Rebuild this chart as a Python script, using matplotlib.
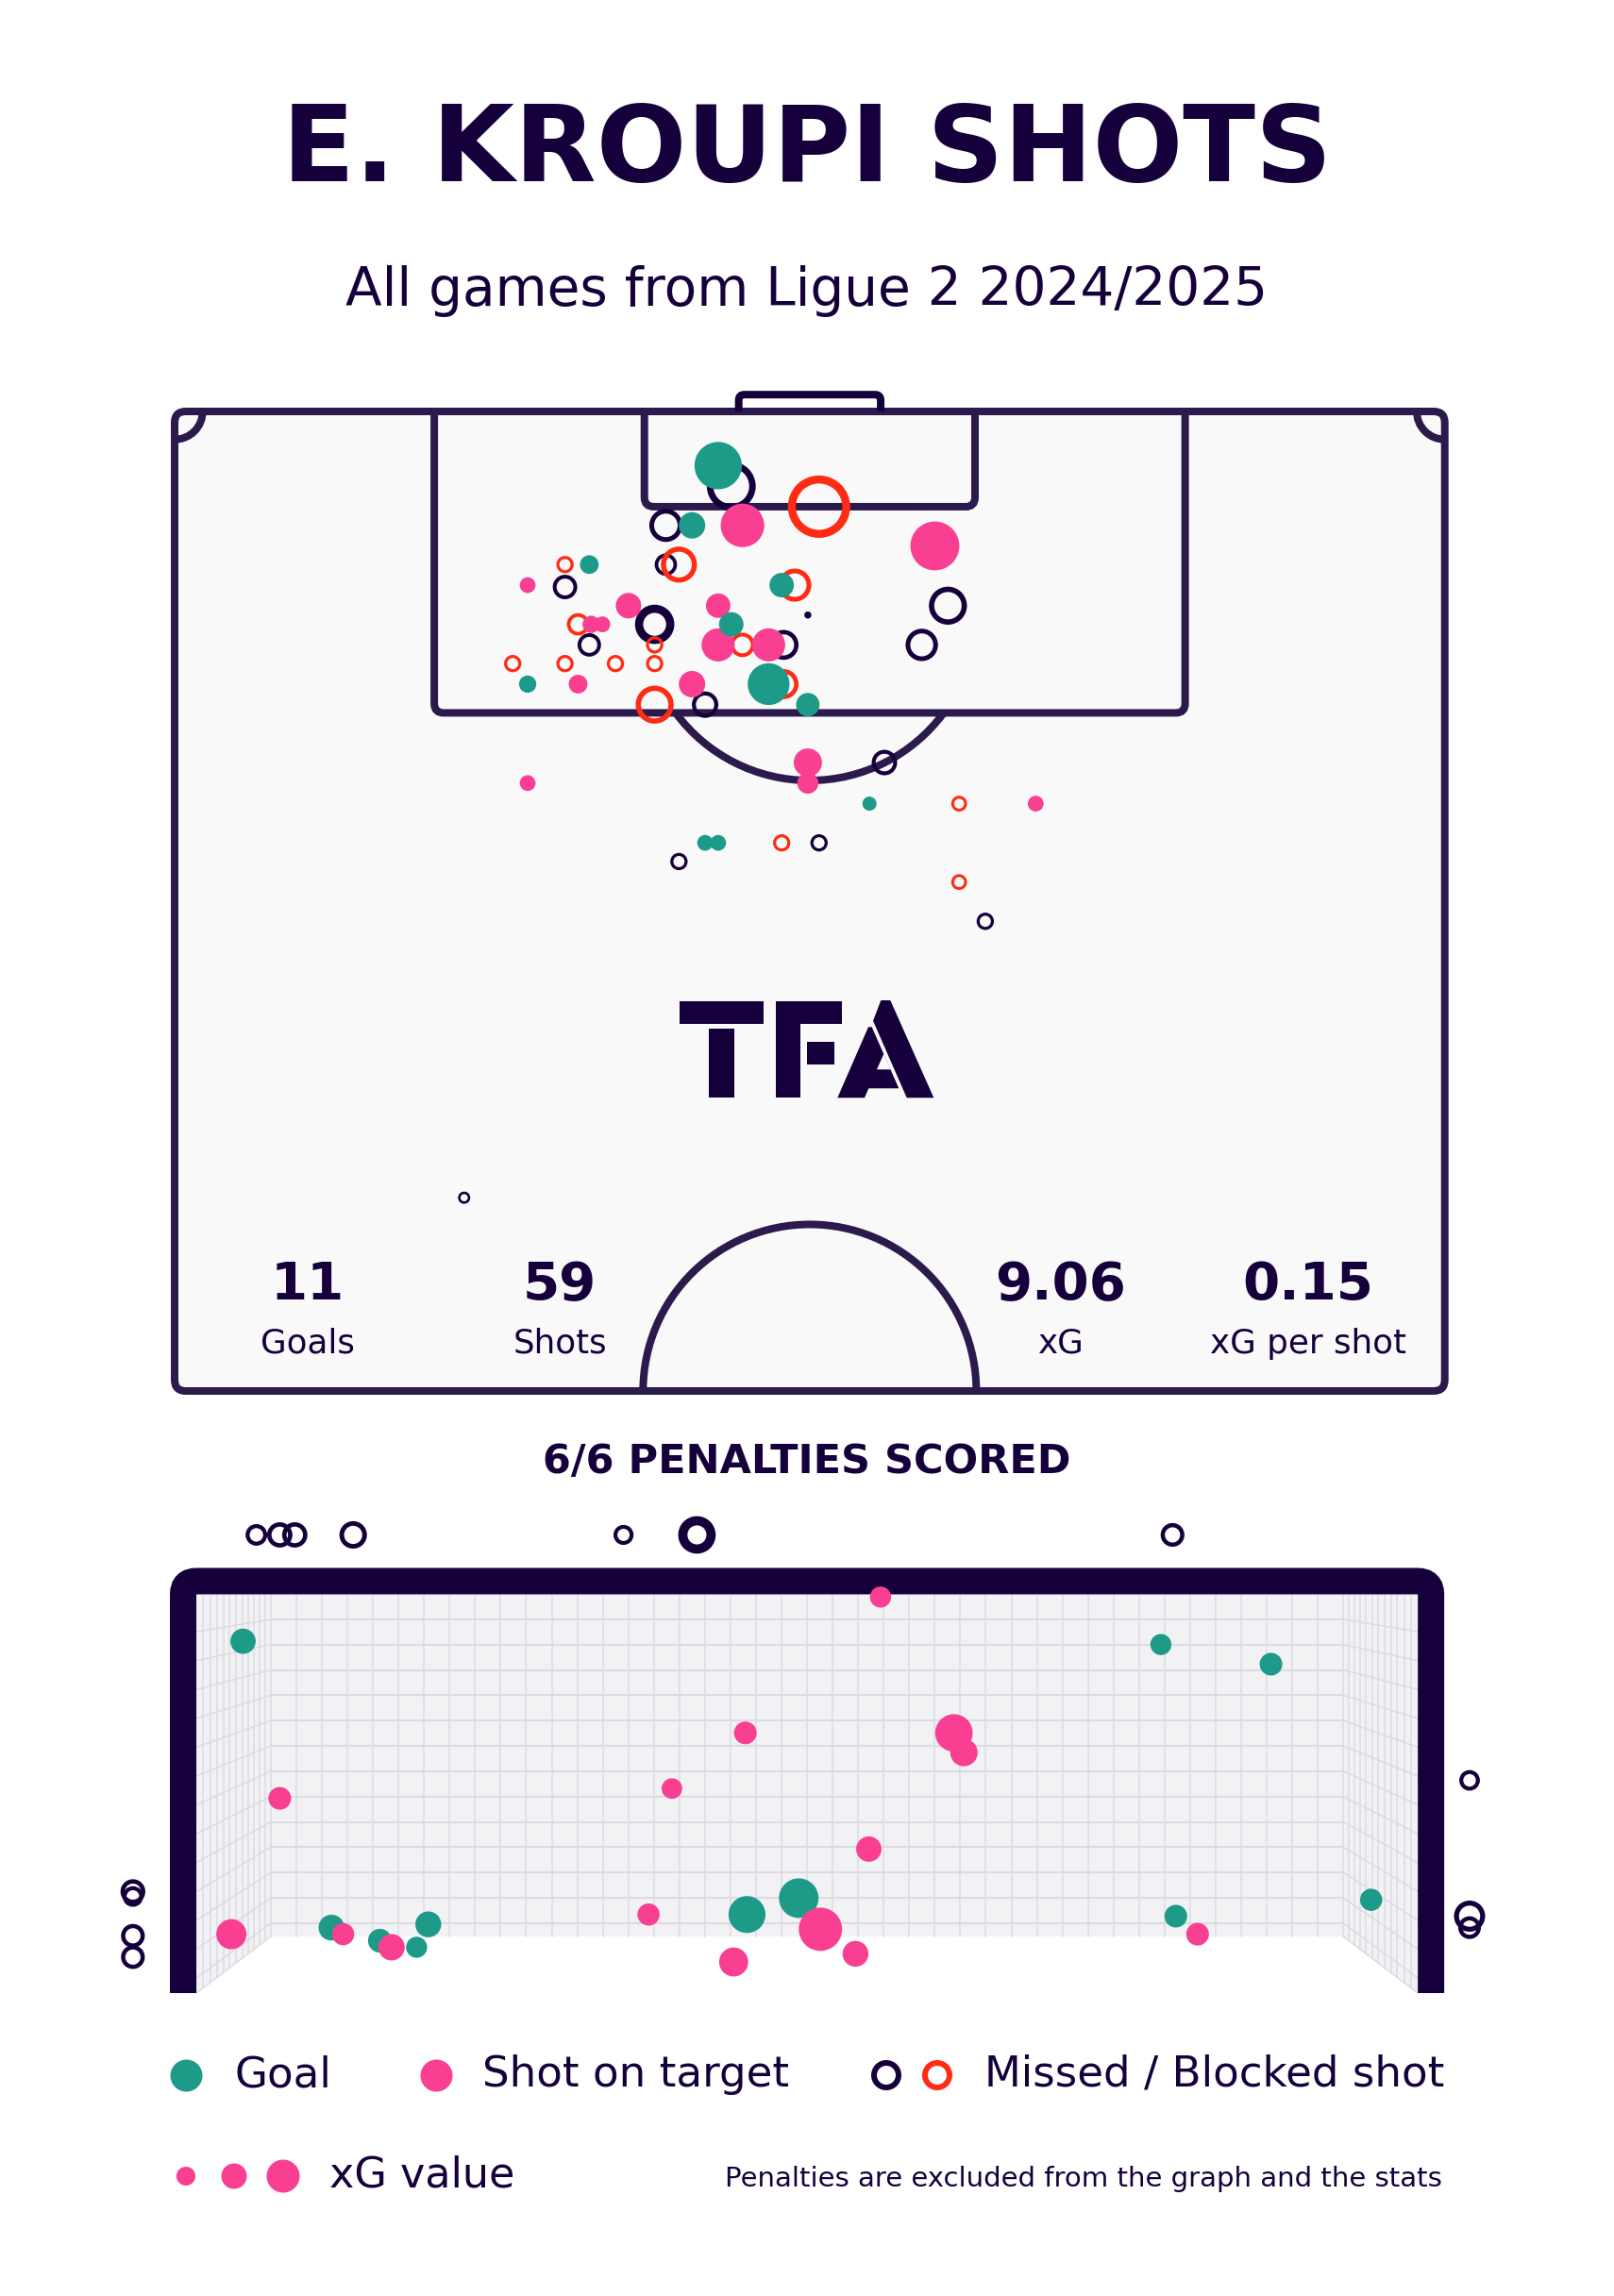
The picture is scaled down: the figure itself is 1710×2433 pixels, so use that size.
import numpy as np
import matplotlib
matplotlib.use('Agg')
import matplotlib.pyplot as plt
from matplotlib.path import Path
from matplotlib.patches import PathPatch, Polygon, FancyBboxPatch, Arc

plt.rcParams['font.family'] = ['DejaVu Sans']

W, H = 1710, 2433
PT = 0.72  # points per pixel at dpi 100

DARK = '#16003b'
LINE = '#2c1a4d'
TEAL = '#1e9a89'
PINK = '#f83f92'
RED = '#ff2b14'
PITCH_BG = '#f9f9f9'
NET_BG = '#f2f2f4'
NET_LINE = '#dcdbe3'

# Shots on the pitch: x = metres from left touchline, y = metres from goal line
goal_x = [29.1, 27.7, 22.2, 32.5, 29.8, 18.9, 31.8, 33.9, 37.2, 28.4, 29.1]
goal_y = [2.9, 6.1, 8.2, 9.3, 11.4, 14.6, 14.6, 15.7, 21.0, 23.1, 23.1]
goal_xg = [0.45, 0.14, 0.07, 0.12, 0.12, 0.06, 0.35, 0.11, 0.04, 0.05, 0.05]

ontarget_x = [30.4, 40.7, 18.9, 24.3, 29.1, 22.3, 22.9, 29.1, 31.8, 21.6, 27.7, 33.9, 33.9, 18.9, 46.1]
ontarget_y = [6.1, 7.2, 9.3, 10.4, 10.4, 11.4, 11.4, 12.5, 12.5, 14.6, 14.6, 18.8, 19.9, 19.9, 21.0]
ontarget_xg = [0.38, 0.48, 0.05, 0.13, 0.12, 0.06, 0.05, 0.22, 0.22, 0.07, 0.14, 0.16, 0.09, 0.05, 0.05]

missed_x = [29.8, 26.3, 26.3, 20.9, 33.9, 41.4, 40.0, 25.7, 25.7, 22.2, 32.6, 28.4, 38.0, 34.5, 27.0, 43.4, 15.5]
missed_y = [4.0, 6.1, 8.2, 9.4, 10.9, 10.4, 12.5, 11.4, 11.4, 12.5, 12.5, 15.7, 18.8, 23.1, 24.1, 27.3, 42.1]
missed_xg = [0.48, 0.22, 0.10, 0.12, 0.01, 0.29, 0.21, 0.31, 0.21, 0.11, 0.18, 0.14, 0.13, 0.06, 0.06, 0.06, 0.03]

blocked_x = [34.5, 20.9, 27.0, 33.2, 21.6, 25.7, 30.4, 18.1, 20.9, 23.6, 25.7, 32.6, 25.7, 42.0, 32.5, 42.0]
blocked_y = [5.1, 8.2, 8.2, 9.3, 11.4, 12.5, 12.5, 13.5, 13.5, 13.5, 13.5, 14.6, 15.7, 21.0, 23.1, 25.2]
blocked_xg = [0.78, 0.06, 0.26, 0.22, 0.10, 0.06, 0.12, 0.06, 0.06, 0.06, 0.06, 0.18, 0.29, 0.05, 0.06, 0.05]

# Goal mouth: y = metres from left post, z = height in metres
gm_goal_y = [0.28, 0.81, 1.10, 1.39, 1.32, 3.30, 3.61, 5.78, 6.44, 5.87, 7.04]
gm_goal_z = [2.15, 0.40, 0.32, 0.42, 0.28, 0.48, 0.58, 2.13, 2.01, 0.47, 0.57]
gm_goal_xg = [0.14, 0.15, 0.11, 0.15, 0.06, 0.36, 0.41, 0.06, 0.09, 0.09, 0.08]

gm_on_y = [0.50, 0.21, 0.88, 1.17, 3.29, 2.85, 2.71, 3.22, 3.74, 3.95, 4.10, 4.54, 4.60, 4.03, 6.00]
gm_on_z = [1.19, 0.36, 0.36, 0.28, 1.59, 1.25, 0.48, 0.19, 0.39, 0.24, 2.42, 1.59, 1.47, 0.88, 0.36]
gm_on_xg = [0.09, 0.23, 0.08, 0.16, 0.09, 0.05, 0.08, 0.21, 0.48, 0.15, 0.06, 0.37, 0.18, 0.14, 0.09]

gm_miss_y = [0.36, 0.50, 0.59, 0.94, 2.56, 3.00, 3.00, 5.85, 7.63, 7.63, 7.63, -0.38, -0.38, -0.38, -0.38]
gm_miss_z = [2.80, 2.80, 2.80, 2.80, 2.80, 2.80, 2.80, 2.80, 1.30, 0.47, 0.40, 0.62, 0.59, 0.35, 0.22]
gm_miss_xg = [0.07, 0.14, 0.14, 0.18, 0.04, 0.37, 0.20, 0.11, 0.05, 0.25, 0.09, 0.13, 0.05, 0.11, 0.11]

stat_values = ['11', '59', '9.06', '0.15']
stat_labels = ['Goals', 'Shots', 'xG', 'xG per shot']
legend_labels = ['Goal', 'Shot on target', 'Missed / Blocked shot']

fig = plt.figure(figsize=(W / 100, H / 100), dpi=100)
fig.patch.set_facecolor('white')


def px_axes(x0, y0, x1, y1, **kw):
    return fig.add_axes([x0 / W, 1 - y1 / H, (x1 - x0) / W, (y1 - y0) / H], **kw)


def ftext(x, y, s, **kw):
    fig.text(x / W, 1 - y / H, s, color=DARK, va='baseline', **kw)


def dots(ax, x, y, r, color, z):
    r = np.asarray(r)
    ax.scatter(x, y, s=(2 * r * PT) ** 2, c=color, linewidths=0, zorder=z)


def rings(ax, x, y, r, lw, color, z):
    r = np.asarray(r)
    lw = np.asarray(lw)
    ax.scatter(x, y, s=(2 * (r - lw / 2) * PT) ** 2, facecolors='none',
               edgecolors=color, linewidths=lw * PT, zorder=z)


def rounded_u(x0, x1, y_end, y_base, r):
    s = np.sign(y_end - y_base)
    verts = [(x0, y_base), (x0, y_end - s * r), (x0, y_end), (x0 + r, y_end),
             (x1 - r, y_end), (x1, y_end), (x1, y_end - s * r), (x1, y_base)]
    codes = [Path.MOVETO, Path.LINETO, Path.CURVE3, Path.CURVE3,
             Path.LINETO, Path.CURVE3, Path.CURVE3, Path.LINETO]
    return Path(verts, codes)


# ---------------- titles ----------------
ftext(855, 192, 'E. KROUPI SHOTS', ha='center', fontsize=81, fontweight='bold')
ftext(855, 324, 'All games from Ligue 2 2024/2025', ha='center', fontsize=40.7)

# ---------------- pitch ----------------
PPM = 19.79
OX, OY = 185, 436
ax_p = px_axes(OX - 2 * PPM, OY - 2.5 * PPM, OX + 70 * PPM, OY + 54 * PPM)
ax_p.set_xlim(-2, 70)
ax_p.set_ylim(54, -2.5)
ax_p.axis('off')

LW = 8 * PT
ax_p.add_patch(FancyBboxPatch((0, 0), 68, 52.45, boxstyle='round,pad=0,rounding_size=0.6',
                              fc=PITCH_BG, ec=LINE, lw=LW, zorder=1))
ax_p.add_patch(PathPatch(rounded_u(13.9, 54.1, 16.14, 0, 0.5), fc='none', ec=LINE, lw=LW, zorder=2))
ax_p.add_patch(PathPatch(rounded_u(25.15, 42.85, 5.1, 0, 0.5), fc='none', ec=LINE, lw=LW, zorder=2))
ax_p.add_patch(PathPatch(rounded_u(30.2, 37.8, -0.9, 0, 0.3), fc='none', ec=DARK, lw=LW, zorder=2))
ax_p.add_patch(Arc((34, 10.84), 2 * 8.92, 2 * 8.92, theta1=36.5, theta2=143.5, ec=LINE, lw=LW, zorder=2))
ax_p.add_patch(Arc((34, 52.45), 2 * 8.92, 2 * 8.92, theta1=180, theta2=360, ec=LINE, lw=LW, zorder=2))
ax_p.add_patch(Arc((0, 0), 3, 3, theta1=0, theta2=90, ec=LINE, lw=LW, zorder=2))
ax_p.add_patch(Arc((68, 0), 3, 3, theta1=90, theta2=180, ec=LINE, lw=LW, zorder=2))


def pitch_r(xg):
    return 37.4 * np.sqrt(np.asarray(xg))


def ring_lw(r):
    # tiny rings close up into a dot
    return np.where(r < 5, r, 1.2 + 0.22 * r)


r = pitch_r(missed_xg)
rings(ax_p, missed_x, missed_y, r, ring_lw(r), DARK, 3)
r = pitch_r(blocked_xg)
rings(ax_p, blocked_x, blocked_y, r, ring_lw(r), RED, 3)
dots(ax_p, ontarget_x, ontarget_y, pitch_r(ontarget_xg), PINK, 4)
dots(ax_p, goal_x, goal_y, pitch_r(goal_xg), TEAL, 5)

# stats
for cx, v, lab in zip([326, 593, 1124, 1386], stat_values, stat_labels):
    ftext(cx, 1377, v, ha='center', fontsize=40.5, fontweight='bold')
    ftext(cx, 1434, lab, ha='center', fontsize=25.7)

ftext(855, 1561, '6/6 PENALTIES SCORED', ha='center', fontsize=31, fontweight='bold')

# ---------------- goal mouth ----------------
GX0, GZ0, GPX, GPZ = 208, 2112, 176.8, 173.4
ax_g = px_axes(GX0 - 0.62 * GPX, GZ0 - 3.02 * GPZ, GX0 + 7.94 * GPX, GZ0 + 0.4 * GPZ)
ax_g.set_xlim(-0.62, 7.94)
ax_g.set_ylim(-0.4, 3.02)
ax_g.axis('off')

SB = 0.878
VPY, VPZ = 3.66, 2.836


def proj(y, z, s):
    return (VPY + s * (y - VPY), VPZ + s * (z - VPZ))


ax_g.add_patch(Polygon([proj(0, 0, SB), proj(7.32, 0, SB), proj(7.32, 2.44, SB), proj(0, 2.44, SB)],
                       closed=True, fc=NET_BG, ec='none', zorder=1))
for side in [0, 7.32]:
    ax_g.add_patch(Polygon([(side, 0), proj(side, 0, SB), proj(side, 2.44, SB), (side, 2.44)],
                           closed=True, fc=NET_BG, ec='none', zorder=1))

for k in range(43):
    yl = 7.32 * k / 42
    p0, p1 = proj(yl, 0, SB), proj(yl, 2.44, SB)
    ax_g.plot([p0[0], p1[0]], [p0[1], p1[1]], color=NET_LINE, lw=1.1, zorder=2)

heights = [0.0] + [0.092 + 0.1763 * k for k in range(13)]
for i, h in enumerate(heights):
    a, b = proj(0, h, SB), proj(7.32, h, SB)
    if i > 0:
        ax_g.plot([a[0], b[0]], [a[1], b[1]], color=NET_LINE, lw=1.5, zorder=2)
    ax_g.plot([0, a[0]], [h, a[1]], color=NET_LINE, lw=1.1, zorder=2)
    ax_g.plot([7.32, b[0]], [h, b[1]], color=NET_LINE, lw=1.1, zorder=2)

for t in range(1, 12):
    s = 1 / (1 + (1 / SB - 1) * t / 12)
    for side in [0, 7.32]:
        a, b = proj(side, 0, s), proj(side, 2.44, s)
        ax_g.plot([a[0], b[0]], [a[1], b[1]], color=NET_LINE, lw=1.1, zorder=2)

ax_g.add_patch(PathPatch(rounded_u(-0.079, 7.399, 2.5175, 0, 0.08), fc='none', ec=DARK,
                         lw=28 * PT, capstyle='butt', zorder=3))


def goal_r(xg):
    return 9.5 + 28 * np.asarray(xg)


dots(ax_g, gm_goal_y, gm_goal_z, goal_r(gm_goal_xg), TEAL, 4)
dots(ax_g, gm_on_y, gm_on_z, goal_r(gm_on_xg), PINK, 5)
r = goal_r(gm_miss_xg)
rings(ax_g, gm_miss_y, gm_miss_z, r, 2 + 0.2 * r, DARK, 6)

# ---------------- overlay: logo + legend ----------------
ax_o = fig.add_axes([0, 0, 1, 1], zorder=10)
ax_o.set_xlim(0, W)
ax_o.set_ylim(H, 0)
ax_o.axis('off')
ax_o.patch.set_alpha(0)

logo = [
    [(720, 1061), (809.3, 1061), (809.3, 1085), (720, 1085)],
    [(751, 1090), (778.3, 1090), (778.3, 1163.3), (751, 1163.3)],
    [(821.7, 1061), (891.7, 1061), (891.7, 1085), (848.3, 1085), (848.3, 1163.3), (821.7, 1163.3)],
    [(855, 1104.3), (884, 1104.3), (884, 1128.3), (855, 1128.3)],
    [(925, 1081.7), (933.3, 1060), (943.3, 1060), (989.3, 1163.3), (960.7, 1163.3)],
    [(887.3, 1163.3), (920, 1088.3), (923.7, 1088.3), (952.3, 1153.3), (920.3, 1153.3), (916, 1163.3)],
]
for poly in logo:
    ax_o.add_patch(Polygon(poly, closed=True, fc=DARK, ec='none'))
ax_o.add_patch(Polygon([(936.3, 1116.7), (929, 1133.3), (943.7, 1133.3)], closed=True, fc=PITCH_BG, ec='none'))

dots(ax_o, [197], [2199], [17], TEAL, 3)
dots(ax_o, [462], [2199], [17], PINK, 3)
rings(ax_o, [939], [2199], [16], np.array([6.0]), DARK, 3)
rings(ax_o, [993], [2199], [16], np.array([6.0]), RED, 3)
dots(ax_o, [197, 248, 300], [2306, 2306, 2306], [10, 13.5, 17.5], PINK, 3)

ftext(248, 2211, legend_labels[0], fontsize=32.5)
ftext(511, 2211, legend_labels[1], fontsize=32.5)
ftext(1043, 2211, legend_labels[2], fontsize=32.5)
ftext(349, 2317, 'xG value', fontsize=32)
ftext(1528, 2317, 'Penalties are excluded from the graph and the stats', ha='right', fontsize=21)

fig.savefig('out.png', dpi=100, facecolor='white')
